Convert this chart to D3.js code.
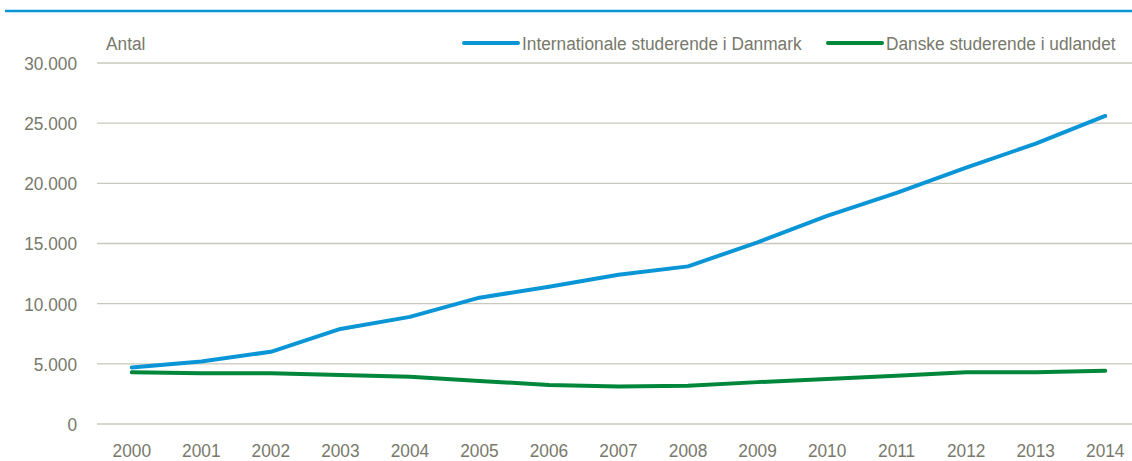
<!DOCTYPE html>
<html>
<head>
<meta charset="utf-8">
<script src="https://cdn.jsdelivr.net/npm/d3@7"></script>
<style>
  html, body { margin: 0; padding: 0; background: #fff; }
  svg text { font-family: "Liberation Sans", Arial, sans-serif; fill: #78786b; }
</style>
</head>
<body>
<div id="chart"></div>
<script>
const years = ["2000", "2001", "2002", "2003", "2004", "2005", "2006", "2007",
  "2008", "2009", "2010", "2011", "2012", "2013", "2014"];
const international = [4700, 5200, 6000, 7900, 8900, 10500, 11400, 12400,
  13100, 15100, 17300, 19200, 21300, 23300, 25600];
const danish = [4300, 4220, 4220, 4080, 3920, 3580, 3250, 3120,
  3180, 3480, 3740, 4000, 4300, 4300, 4420];
const yTicks = [0, 5000, 10000, 15000, 20000, 25000, 30000];
const seriesNames = ["Internationale studerende i Danmark", "Danske studerende i udlandet"];
const seriesColors = ["#0a95d7", "#00873c"];

const width = 1132, height = 461;
const squeeze = 0.91; // mimic the condensed font of the original
const svg = d3.select("#chart").append("svg")
  .attr("width", width).attr("height", height);

// text placed with a horizontal squeeze
function label(parent, px, py) {
  return parent.append("text")
    .attr("transform", `translate(${px},${py}) scale(${squeeze},1)`)
    .attr("font-size", "19px");
}

// top rule
svg.append("line")
  .attr("x1", 5).attr("x2", width)
  .attr("y1", 11).attr("y2", 11)
  .attr("stroke", "#0a95d7").attr("stroke-width", 2.5);

const x = d3.scalePoint().domain(years).range([97, 1140]).padding(0.5);
const y = d3.scaleLinear().domain([0, 30000]).range([424, 63]);

const fmt = d => d === 0 ? "0" : d3.format(",")(d).replace(/,/g, ".");

// grid
svg.append("g").selectAll("line").data(yTicks).enter().append("line")
  .attr("x1", 97).attr("x2", width)
  .attr("y1", d => y(d)).attr("y2", d => y(d))
  .attr("stroke", "#c9c8bd").attr("stroke-width", 1.3);

// y labels
const yAxisG = svg.append("g");
yTicks.forEach(t => {
  label(yAxisG, 77, y(t))
    .attr("dy", "0.36em")
    .attr("text-anchor", "end")
    .text(fmt(t));
});

// x labels
const xAxisG = svg.append("g");
years.forEach(yr => {
  label(xAxisG, x(yr), 457)
    .attr("text-anchor", "middle")
    .text(yr);
});

label(svg, 106, 50).text("Antal");

// lines
const line = d3.line()
  .x((d, i) => x(years[i]))
  .y(d => y(d));

[international, danish].forEach((vals, k) => {
  svg.append("path")
    .datum(vals)
    .attr("d", line)
    .attr("fill", "none")
    .attr("stroke", seriesColors[k])
    .attr("stroke-width", 4)
    .attr("stroke-linecap", "round")
    .attr("stroke-linejoin", "round");
});

// legend
const legendX = [464, 828];
seriesNames.forEach((name, k) => {
  const g = svg.append("g").attr("transform", `translate(${legendX[k]},43)`);
  g.append("line")
    .attr("x1", 0).attr("x2", 54)
    .attr("stroke", seriesColors[k])
    .attr("stroke-width", 4)
    .attr("stroke-linecap", "round");
  label(g, 58, 0)
    .attr("dy", "0.36em")
    .text(name);
});
</script>
</body>
</html>
